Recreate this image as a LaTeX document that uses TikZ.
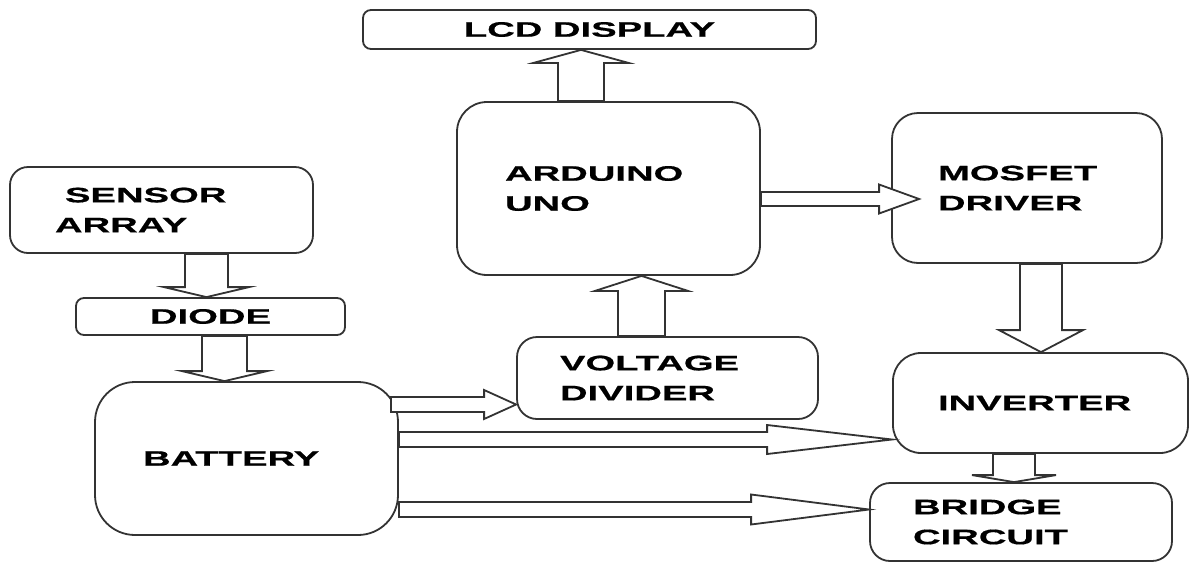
\documentclass[tikz,border=0pt]{standalone}
\usepackage{fontspec}
\setmainfont{Liberation Sans}[FakeStretch=1.82, BoldFeatures={FakeBold=0.6}]
\usetikzlibrary{calc}

% hollow block arrows: start point, tip point, half shaft, half head, head length
\newcommand{\fatv}[5]{%
  \draw[fatarrow] let \p1=#1, \p2=#2 in
    ({\x1-#3},\y1) -- ({\x1-#3},{\y2+#5}) -- ({\x1-#4},{\y2+#5}) -- (\x1,\y2)
    -- ({\x1+#4},{\y2+#5}) -- ({\x1+#3},{\y2+#5}) -- ({\x1+#3},\y1) -- cycle;}
\newcommand{\fath}[5]{%
  \draw[fatarrow] let \p1=#1, \p2=#2 in
    (\x1,{\y1+#3}) -- ({\x2-#5},{\y1+#3}) -- ({\x2-#5},{\y1+#4}) -- (\x2,\y1)
    -- ({\x2-#5},{\y1-#4}) -- ({\x2-#5},{\y1-#3}) -- (\x1,{\y1-#3}) -- cycle;}

\begin{document}
\begin{tikzpicture}[
        x=0.5pt,
        y=-0.5pt,
        unit/.style={draw=black!80, line width=0.9pt, fill=white, inner sep=0pt, align=left,
            font=\fontsize{10.5pt}{15pt}\selectfont\bfseries},
        fatarrow/.style={draw=black!80, line width=0.9pt, fill=white, line join=miter}
    ]
        \useasboundingbox (0,0) rectangle (1190,563);

        \node[unit, minimum width=151.5pt, minimum height=43pt, text width=106.5pt, rounded corners=9pt] (sensor) at (161.5,210) {\hspace*{5pt}SENSOR\\ARRAY};
        \node[unit, align=center, minimum width=134.5pt, minimum height=18.5pt, rounded corners=4pt] (diode) at (210.5,316.5) {DIODE};
        \node[unit, minimum width=151.5pt, minimum height=76.5pt, text width=103.5pt, rounded corners=20pt] (battery) at (246.5,458.5) {BATTERY};

        \node[unit, align=center, minimum width=226.5pt, minimum height=19.5pt, rounded corners=4pt] (lcd) at (589.5,29.5) {LCD DISPLAY};
        \node[unit, minimum width=151.5pt, minimum height=86.5pt, text width=103.5pt, rounded corners=15pt] (arduino) at (608.5,188.5) {ARDUINO\\UNO};
        \node[unit, minimum width=150.5pt, minimum height=41pt, text width=107.5pt, rounded corners=10pt] (divider) at (667.5,378) {VOLTAGE\\DIVIDER};

        \node[unit, minimum width=135pt, minimum height=75pt, text width=89pt, rounded corners=13pt] (mosfet) at (1027,188) {MOSFET\\DRIVER};
        \node[unit, minimum width=147.5pt, minimum height=50pt, text width=102.5pt, rounded corners=14pt] (inverter) at (1040.5,403) {INVERTER};
        \node[unit, minimum width=151pt, minimum height=39pt, text width=108pt, rounded corners=10pt] (bridge) at (1021,522) {BRIDGE\\CIRCUIT};

        % vertical arrows
        \fatv{($(sensor.south)+(45,0)$)}{(diode.north)}{10.75pt}{21.25pt}{5pt}
        \fatv{($(diode.south)+(14,0)$)}{(battery.north)}{11.25pt}{21.25pt}{5pt}
        \fatv{($(arduino.north)+(-27.5,0)$)}{(lcd.south)}{11.5pt}{23.75pt}{-6.5pt}
        \fatv{($(divider.north)+(-26,0)$)}{(arduino.south)}{11.75pt}{23.25pt}{-7.5pt}
        \fatv{($(mosfet.south)+(14,0)$)}{(inverter.north)}{10.5pt}{21pt}{11pt}
        \fatv{($(inverter.south)+(-26.5,0)$)}{(bridge.north)}{10.5pt}{21pt}{3.5pt}

        % horizontal arrows
        \fath{($(arduino.east)+(0,10.5)$)}{($(mosfet.west)+(28,0)$)}{3.5pt}{7.25pt}{20pt}
        \fath{($(battery.east)+(-8,-54)$)}{(divider.west)}{3.75pt}{7.25pt}{16pt}
        \fath{($(battery.east)+(0,-19)$)}{(inverter.west)}{3.75pt}{7.25pt}{62.5pt}
        \fath{($(battery.east)+(0,51)$)}{(bridge.west)}{3.75pt}{7.5pt}{59pt}
    \end{tikzpicture}
\end{document}
